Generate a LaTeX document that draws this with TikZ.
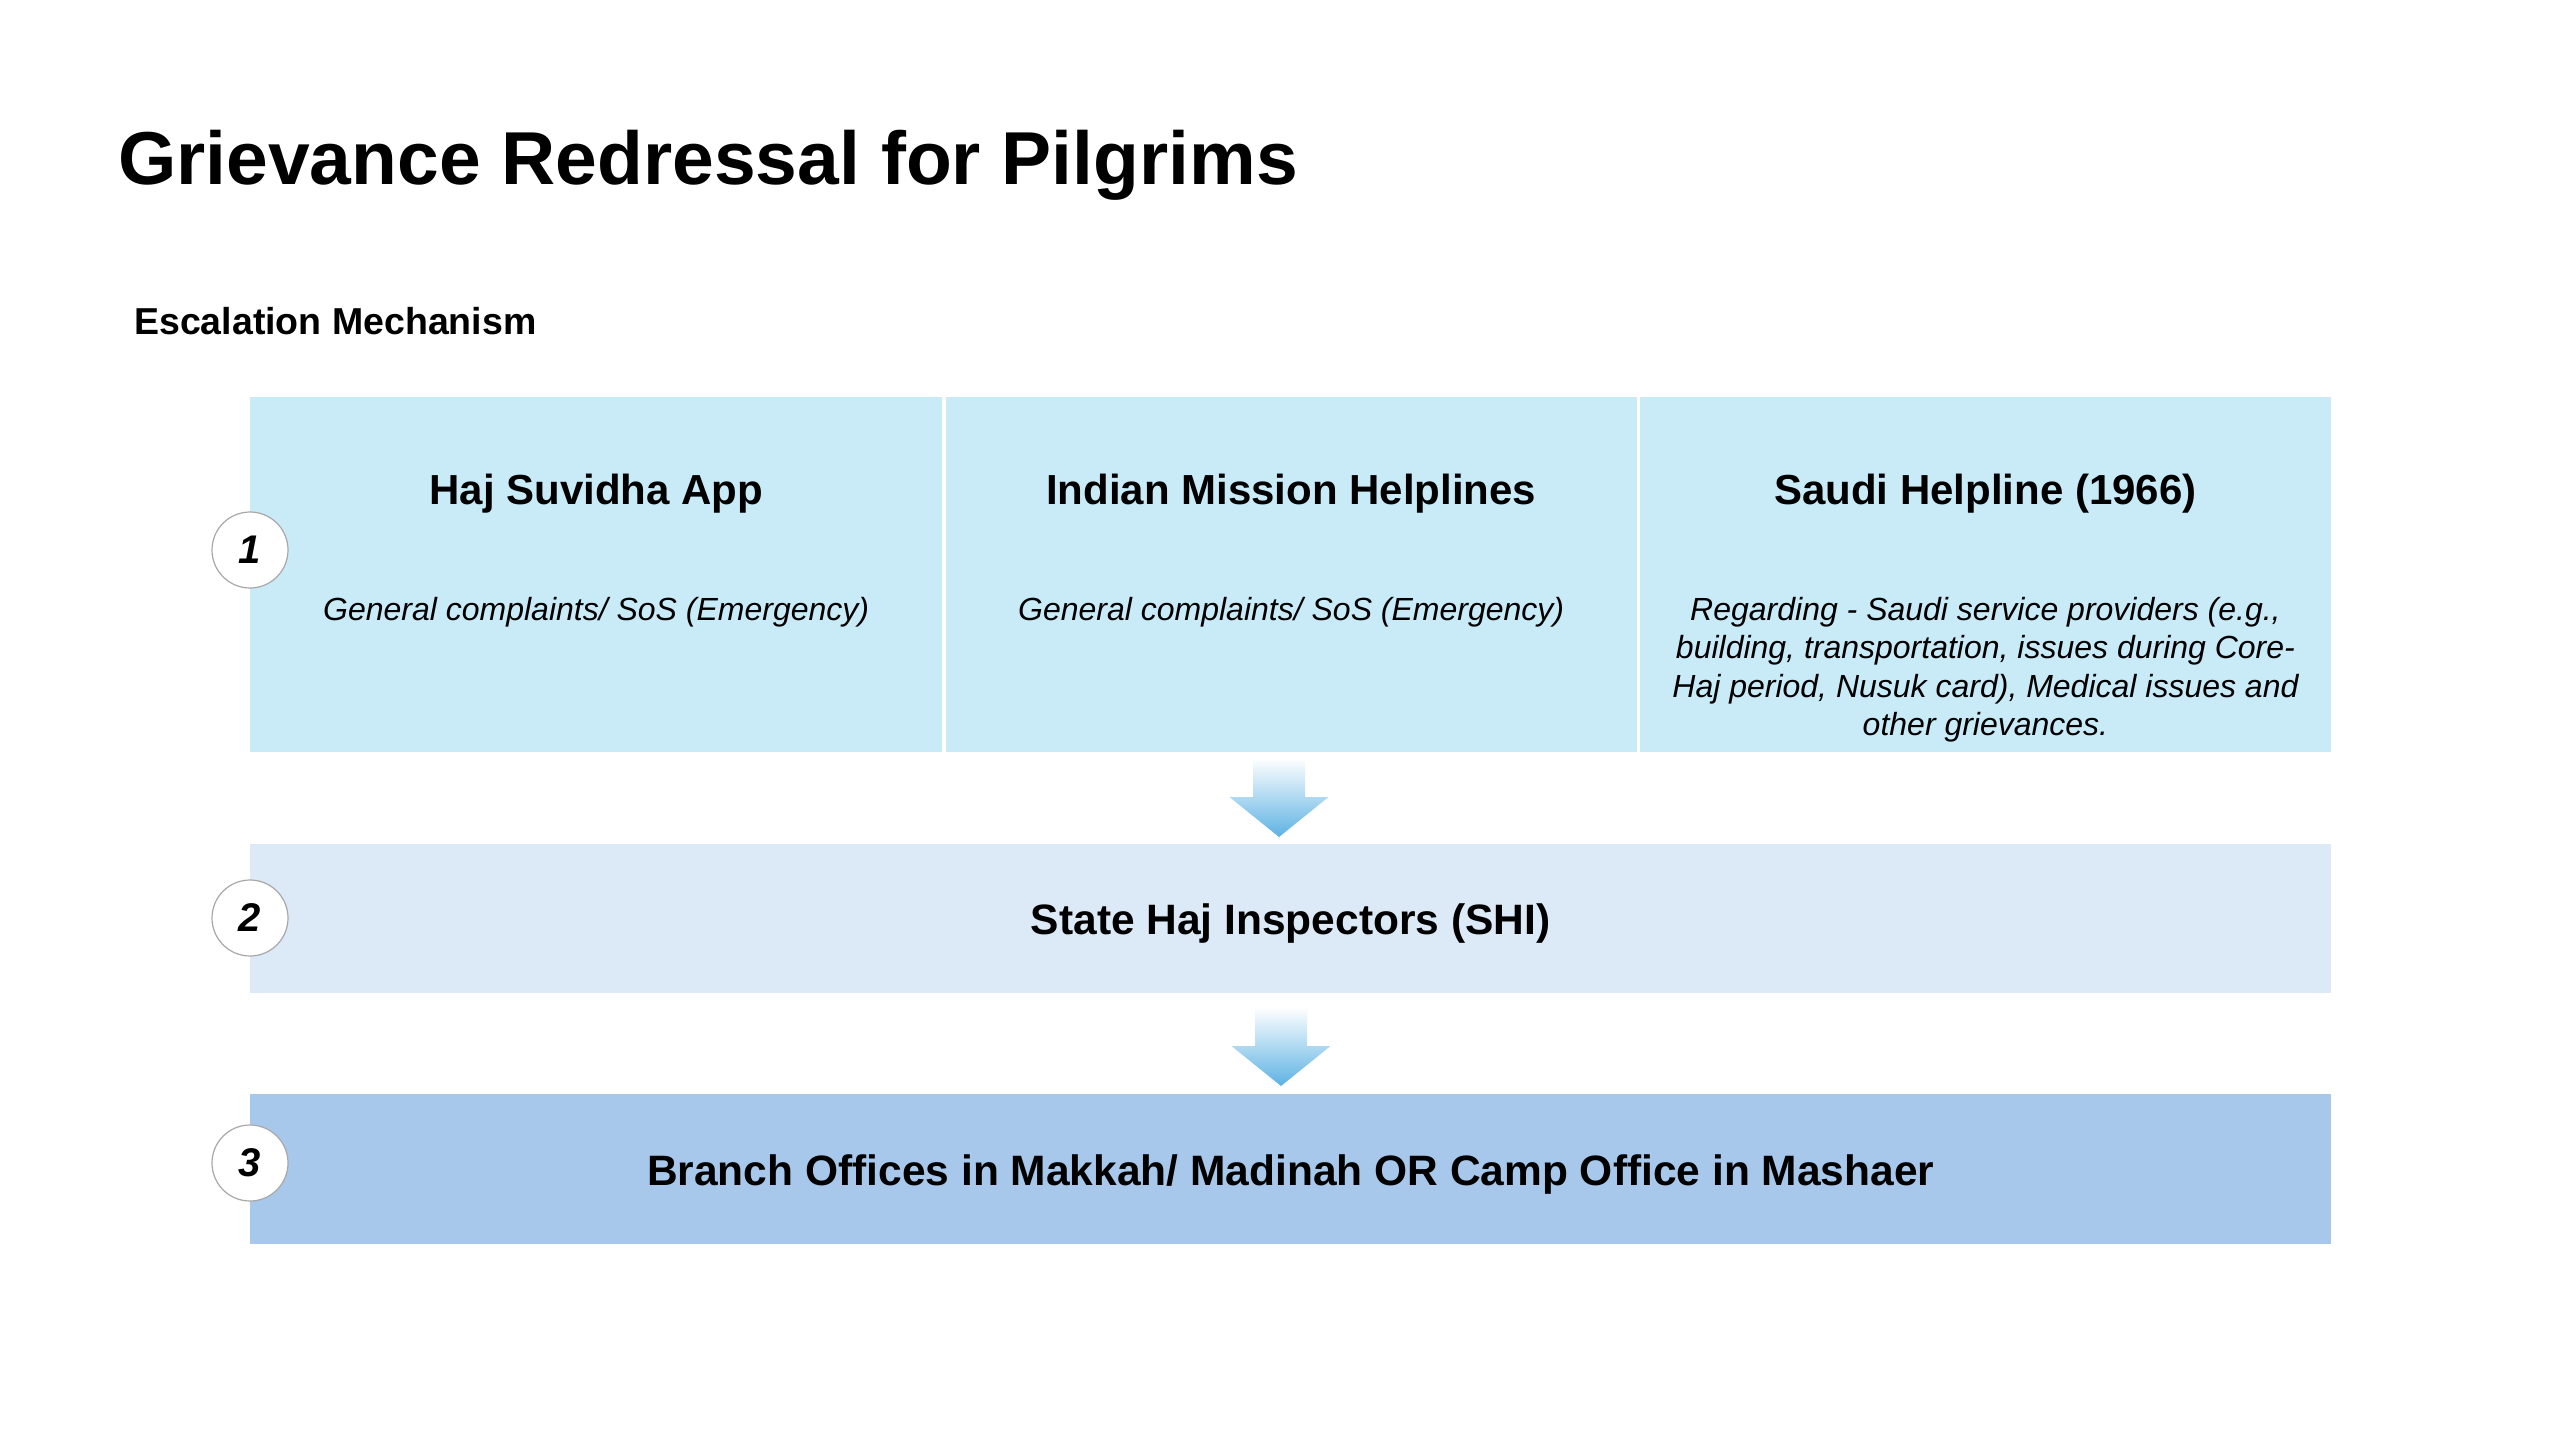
\documentclass[tikz,border=0pt]{standalone}
\usepackage{fontspec}
\setmainfont{Liberation Sans}
\usetikzlibrary{calc}
\definecolor{rowA}{HTML}{C9EBF8}
\definecolor{rowB}{HTML}{DCE9F6}
\definecolor{rowC}{HTML}{A7C8EB}
\definecolor{arrowblue}{HTML}{5DB2E3}
\definecolor{circline}{HTML}{A8A8A8}
\tikzset{
  cellbox/.style={draw=none, rectangle, anchor=north west, inner sep=0pt},
  headtxt/.style={font=\fontsize{42}{50}\selectfont\bfseries, inner sep=0pt},
  desctxt/.style={font=\fontsize{32}{38.5}\selectfont\itshape, inner sep=0pt, align=center},
  rowtxt/.style={font=\fontsize{42.5}{50}\selectfont\bfseries},
  numcirc/.style={circle, draw=circline, line width=1.2pt, fill=white, minimum size=76pt, inner sep=0pt, font=\fontsize{40}{48}\selectfont\bfseries\itshape},
  downarrow/.pic={\path[top color=white, bottom color=arrowblue] (-26,0) -- (26,0) -- (26,39) -- (49.5,39) -- (0,79) -- (-49.5,39) -- (-26,39) -- cycle;}
}
\begin{document}
\begin{tikzpicture}[x=1pt,y=-1pt]
\useasboundingbox[fill=white] (0,0) rectangle (2560,1440);
% title
\node[anchor=west, inner sep=0pt, font=\fontsize{75}{90}\selectfont\bfseries] (title) at (118,165) {Grievance Redressal for Pilgrims};
\node[anchor=west, inner sep=0pt, font=\fontsize{37.5}{45}\selectfont\bfseries] (sub) at (134,321) {Escalation Mechanism};
% row 1
\node[cellbox, fill=rowA, minimum width=692pt, minimum height=355pt] (c1) at (250,397) {};
\node[cellbox, fill=rowA, minimum width=691pt, minimum height=355pt] (c2) at (945.5,397) {};
\node[cellbox, fill=rowA, minimum width=691.5pt, minimum height=355pt] (c3) at (1639.5,397) {};
\node[headtxt] (h1) at ($(c1.north)+(0,97)$) {Haj Suvidha App};
\node[headtxt] (h2) at ($(c2.north)+(0,97)$) {Indian Mission Helplines};
\node[headtxt] (h3) at ($(c3.north)+(0,97)$) {Saudi Helpline (1966)};
\node[desctxt] (d1) at ($(c1.north)+(0,215)$) {General complaints/ SoS (Emergency)};
\node[desctxt] (d2) at ($(c2.north)+(0,215)$) {General complaints/ SoS (Emergency)};
\node[desctxt, anchor=north] (d3) at ($(c3.north)+(0,200)$) {Regarding - Saudi service providers (e.g.,\\ building, transportation, issues during Core-\\ Haj period, Nusuk card), Medical issues and\\ other grievances.};
% row 2
\node[cellbox, fill=rowB, minimum width=2081pt, minimum height=149pt] (r2) at (250,844) {};
\node[rowtxt] (t2) at ($(r2.center)+(0,5)$) {State Haj Inspectors (SHI)};
% row 3
\node[cellbox, fill=rowC, minimum width=2081pt, minimum height=150pt] (r3) at (250,1094) {};
\node[rowtxt] (t3) at ($(r3.center)+(0,5)$) {Branch Offices in Makkah/ Madinah OR Camp Office in Mashaer};
% arrows
\pic at (1279,758) {downarrow};
\pic at (1281,1007) {downarrow};
% number circles
\node[numcirc] (n1) at (250,550) {1};
\node[numcirc] (n2) at (250,918) {2};
\node[numcirc] (n3) at (250,1163) {3};
\end{tikzpicture}
\end{document}
